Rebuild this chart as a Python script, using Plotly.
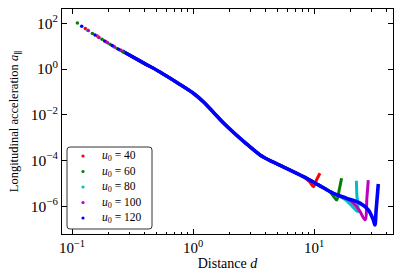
import plotly.graph_objects as go

# Legend labels
u0_values = [40, 60, 80, 100, 120]
colors = ["#ff0000", "#008000", "#00bfbf", "#bf00bf", "#0000ff"]

# Sparse initial points for each series (distance d, acceleration a)
d_start = {
    40:  [0.1288, 0.1618, 0.191, 0.2203, 0.2495],
    60:  [0.1107, 0.1472, 0.177, 0.206, 0.2355, 0.2636],
    80:  [0.134, 0.165, 0.195, 0.223, 0.253],
    100: [0.1365, 0.1671, 0.1963, 0.2244, 0.2541],
    120: [0.1202, 0.1549, 0.1858, 0.2143, 0.2421],
}
a_start = {
    40:  [58.9, 27.5, 15.5, 10.0, 6.8],
    60:  [102, 35.5, 20.0, 12.0, 7.9, 5.75],
    80:  [50, 25, 14.4, 9.5, 6.6],
    100: [47.9, 24.0, 14.1, 9.3, 6.5],
    120: [74, 30.9, 17.0, 10.7, 7.4],
}

# Common (overlapping) part of all curves
d_common = [0.26, 0.389, 0.533, 0.741, 1.0, 1.216, 1.479, 1.778, 2.692, 3.58,
            4.467, 5.57, 8.17, 10.86, 14.45, 18.62, 23.99]
a_common = [6.17, 1.86, 0.741, 0.251, 0.0891, 0.037, 0.0126, 0.00447, 6.0e-4,
            1.74e-4, 9.1e-5, 5.25e-5, 1.95e-5, 8.5e-6, 3.63e-6, 2.19e-6, 1.35e-6]

# Number of common points each series follows before its own tail
n_common = {40: 13, 60: 14, 80: 15, 100: 16, 120: 17}

# Individual tails
d_tail = {
    40:  [9.2, 9.9, 10.5, 11.2],
    60:  [13.1, 14.3, 15.4, 16.2, 16.9],
    80:  [18.0, 20.5, 23.0, 22.6, 22.4],
    100: [20.5, 23.5, 26.4, 27.4, 28.1],
    120: [28.1, 30.9, 31.9, 32.6, 34.0],
}
a_tail = {
    40:  [1.17e-5, 7.1e-6, 1.4e-5, 2.75e-5],
    60:  [4.9e-6, 3.0e-6, 1.86e-6, 5.5e-6, 1.66e-5],
    80:  [2.0e-6, 1.05e-6, 5.75e-7, 3.2e-6, 1.29e-5],
    100: [1.58e-6, 7.1e-7, 2.5e-7, 2.5e-6, 1.38e-5],
    120: [6.8e-7, 2.5e-7, 1.5e-7, 6.3e-7, 9.3e-6],
}

font_family = "Liberation Serif, DejaVu Serif, serif"

fig = go.Figure()

for u0, col in zip(u0_values, colors):
    n = n_common[u0]
    xs = d_common[:n] + d_tail[u0]
    ys = a_common[:n] + a_tail[u0]
    fig.add_trace(go.Scatter(
        x=xs, y=ys, mode="lines",
        line=dict(color=col, width=3.6 if u0 == 120 else 3, shape="spline", smoothing=0.9),
        showlegend=False, hoverinfo="skip",
    ))

for u0, col in zip(u0_values, colors):
    fig.add_trace(go.Scatter(
        x=d_start[u0], y=a_start[u0], mode="markers",
        marker=dict(color=col, size=3.5, line=dict(width=0)),
        name=f"u0 = {u0}", showlegend=False, hoverinfo="skip",
    ))

# ---- hand-built legend (layout geometry in paper coordinates) ----
L, R, T, B = 62, 393, 9, 234
W, H = R - L, B - T
def px(x):
    return (x - L) / W
def py(y):
    return (B - y) / H

bx0, bx1, by0, by1 = px(67), px(152), py(229), py(147)
rx, ry = 3 / W, 3 / H
path = (f"M {bx0+rx},{by1} L {bx1-rx},{by1} Q {bx1},{by1} {bx1},{by1-ry} "
        f"L {bx1},{by0+ry} Q {bx1},{by0} {bx1-rx},{by0} "
        f"L {bx0+rx},{by0} Q {bx0},{by0} {bx0},{by0+ry} "
        f"L {bx0},{by1-ry} Q {bx0},{by1} {bx0+rx},{by1} Z")
shapes = [dict(type="path", xref="paper", yref="paper", path=path,
               fillcolor="white", line=dict(color="#333333", width=1), layer="above")]
annotations = []
row_y = [156, 171.5, 187, 202.5, 218]
for u0, col, yy in zip(u0_values, colors, row_y):
    shapes.append(dict(type="circle", xref="paper", yref="paper",
                       xsizemode="pixel", ysizemode="pixel",
                       xanchor=px(83), yanchor=py(yy),
                       x0=-1.6, x1=1.6, y0=-1.6, y1=1.6,
                       fillcolor=col, line=dict(width=0), layer="above"))
    annotations.append(dict(xref="paper", yref="paper", x=px(100), y=py(yy),
                            xanchor="left", yanchor="middle", showarrow=False,
                            text=f"<i>u</i><sub>0</sub> = {u0}",
                            font=dict(size=11.5, family=font_family, color="black")))

major_x = [0.1, 1, 10]
minor_x = [0.2, 0.3, 0.4, 0.5, 0.6, 0.7, 0.8, 0.9,
           2, 3, 4, 5, 6, 7, 8, 9, 20, 30, 40]
major_y = [1e-6, 1e-4, 1e-2, 1, 1e2]

fig.update_layout(
    width=400, height=280,
    margin=dict(l=L, r=400 - R, t=T, b=280 - B, autoexpand=False),
    paper_bgcolor="white", plot_bgcolor="white",
    font=dict(family=font_family, size=13, color="black"),
    showlegend=False,
    shapes=shapes, annotations=annotations,
    xaxis=dict(
        type="log", range=[-1.083, 1.653], automargin=False,
        tickvals=major_x,
        ticktext=["10<sup>−1</sup>", "10<sup>0</sup>", "10<sup>1</sup>"],
        ticks="inside", ticklen=5, tickwidth=1, tickcolor="black",
        showline=True, linecolor="black", linewidth=1, mirror="allticks",
        showgrid=False, zeroline=False,
        minor=dict(tickvals=minor_x, ticks="inside", ticklen=2.5, tickwidth=0.8,
                   tickcolor="black", showgrid=False),
        title=dict(text="Distance <i>d</i>", font=dict(size=14), standoff=3),
        tickfont=dict(size=15),
    ),
    yaxis=dict(
        type="log", range=[-7.22, 2.626], automargin=False,
        tickvals=major_y,
        ticktext=["10<sup>−6</sup>", "10<sup>−4</sup>", "10<sup>−2</sup>",
                  "10<sup>0</sup>", "10<sup>2</sup>"],
        ticks="inside", ticklen=5, tickwidth=1, tickcolor="black",
        showline=True, linecolor="black", linewidth=1, mirror="allticks",
        showgrid=False, zeroline=False,
        title=dict(text="Longitudinal acceleration <i>a</i><sub>∥</sub>",
                   font=dict(size=12.5), standoff=9),
        tickfont=dict(size=15.5),
    ),
)

fig.write_html("out.html",
               config={"displayModeBar": False},
               post_script="document.body.style.margin='0';document.body.style.padding='0';")
